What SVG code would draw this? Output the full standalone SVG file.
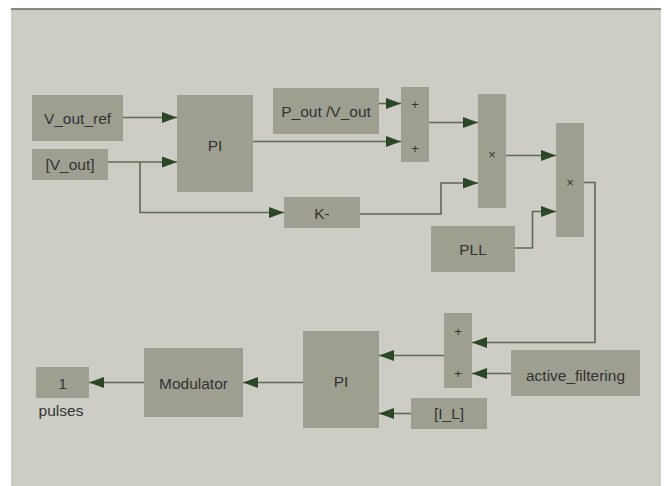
<svg xmlns="http://www.w3.org/2000/svg" width="667" height="486" viewBox="0 0 667 486">
<defs>
<marker id="ah" markerWidth="15" markerHeight="11" refX="15" refY="5.5" orient="auto" markerUnits="userSpaceOnUse">
<path d="M0,0 L15,5.5 L0,11 Z" fill="#2b4727"/>
</marker>
</defs>
<style>
.blk{fill:#9e9f91}
.lbl{font-family:"Liberation Sans",Arial,sans-serif;font-size:15.5px;fill:#333;text-anchor:middle;dominant-baseline:central}
.sm{font-size:13px}
.ln{fill:none;stroke:#5b6b55;stroke-width:1.6;marker-end:url(#ah)}
</style>
<rect x="0" y="0" width="667" height="486" fill="#ffffff"/>
<rect x="11" y="9" width="650" height="477" fill="#cdcdc5"/>
<line x1="11" y1="9" x2="661" y2="9" stroke="#5b6b55" stroke-width="1.6"/>

<g id="connectors">
<path class="ln" d="M123,117.5 H177"/>
<path class="ln" d="M108,162 H177"/>
<path class="ln" d="M140,162 V212.5 H284"/>
<path class="ln" d="M253,141.5 H401"/>
<path class="ln" d="M379,103.5 H401"/>
<path class="ln" d="M429,122.5 H478"/>
<path class="ln" d="M360,214 H441 V183 H478"/>
<path class="ln" d="M506,155.5 H556"/>
<path class="ln" d="M515,248 H532.5 V211.5 H556"/>
<path class="ln" d="M584,182.5 H595 V342.5 H472"/>
<path class="ln" d="M511,373.5 H472"/>
<path class="ln" d="M444,355.5 H379"/>
<path class="ln" d="M411,413.5 H379"/>
<path class="ln" d="M303,382.5 H243"/>
<path class="ln" d="M144,382.5 H89"/>
</g>

<g id="v_out_ref"><rect class="blk" x="32" y="95" width="91" height="46"/><text class="lbl" x="77.5" y="118">V_out_ref</text></g>
<g id="v_out"><rect class="blk" x="32" y="149" width="76" height="31"/><text class="lbl" x="70" y="164">[V_out]</text></g>
<g id="pi1"><rect class="blk" x="177" y="95" width="76" height="97"/><text class="lbl" x="215" y="145">PI</text></g>
<g id="pout"><rect class="blk" x="273" y="88" width="106" height="46"/><text class="lbl" x="326" y="111">P_out /V_out</text></g>
<g id="sum1"><rect class="blk" x="401" y="87" width="28" height="75"/><text class="lbl sm" x="415" y="104">+</text><text class="lbl sm" x="415" y="148">+</text></g>
<g id="k"><rect class="blk" x="284" y="197" width="76" height="31"/><text class="lbl" x="322" y="213">K-</text></g>
<g id="prod1"><rect class="blk" x="478" y="94" width="28" height="114"/><text class="lbl sm" x="492" y="154">×</text></g>
<g id="prod2"><rect class="blk" x="556" y="123" width="28" height="114"/><text class="lbl sm" x="570" y="182">×</text></g>
<g id="pll"><rect class="blk" x="431" y="226" width="84" height="46"/><text class="lbl" x="473" y="249">PLL</text></g>
<g id="sum2"><rect class="blk" x="444" y="313" width="28" height="75"/><text class="lbl sm" x="458" y="331">+</text><text class="lbl sm" x="458" y="373">+</text></g>
<g id="active_filtering"><rect class="blk" x="511" y="350" width="129" height="46"/><text class="lbl" x="575.5" y="375">active_filtering</text></g>
<g id="pi2"><rect class="blk" x="303" y="331" width="76" height="97"/><text class="lbl" x="341" y="381">PI</text></g>
<g id="il"><rect class="blk" x="411" y="398" width="76" height="31"/><text class="lbl" x="449" y="413">[I_L]</text></g>
<g id="modulator"><rect class="blk" x="144" y="348" width="99" height="69"/><text class="lbl" x="193.5" y="383">Modulator</text></g>
<g id="pulses"><rect class="blk" x="36" y="367" width="53" height="31"/><text class="lbl" x="62.5" y="383">1</text><text class="lbl" x="61" y="410">pulses</text></g>
</svg>
